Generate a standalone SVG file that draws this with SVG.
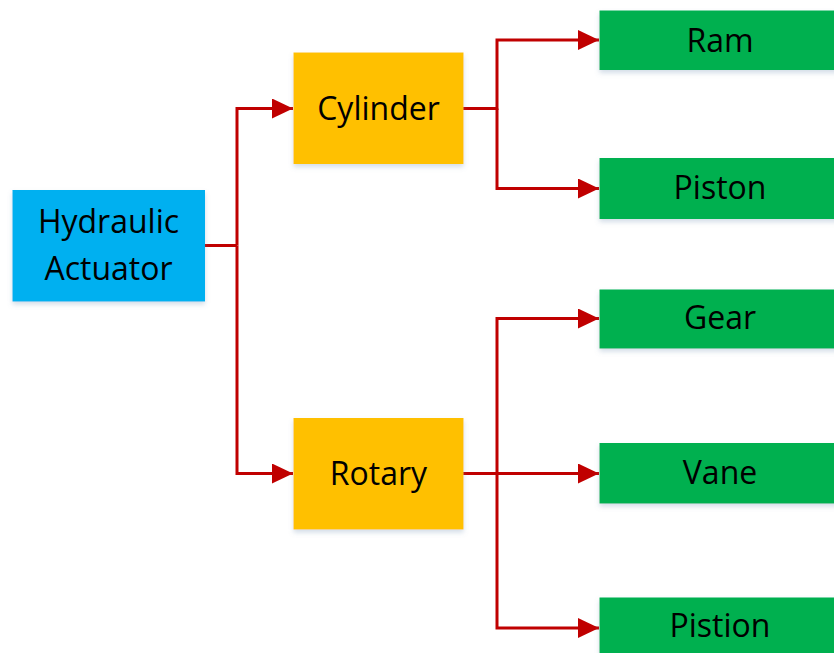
<svg xmlns="http://www.w3.org/2000/svg" width="834" height="653" viewBox="0 0 834 653">
  <style>
    .label { font-family: "Open Sans", "Noto Sans", sans-serif; font-size: 32px; fill: #000; text-anchor: middle; }
    .root { fill: #00B0F0; }
    .mid { fill: #FFC000; }
    .leaf { fill: #00B050; }
    .wire { fill: none; stroke: #C00000; stroke-width: 3; }
  </style>
  <defs>
    <filter id="soft" x="-10%" y="-10%" width="120%" height="130%">
      <feDropShadow dx="0" dy="3" stdDeviation="2.5" flood-color="#6f8fb0" flood-opacity="0.3"/>
    </filter>
    <marker id="head" markerUnits="userSpaceOnUse" markerWidth="21" markerHeight="20" refX="21" refY="10" orient="auto">
      <path d="M0,0 L21,10 L0,20 Z" fill="#C00000"/>
    </marker>
  </defs>

  <rect width="834" height="653" fill="#FFFFFF"/>

  <g id="connectors" class="wire">
    <path d="M205 245.5 H237"/>
    <path d="M237 245.5 V108.5 H293" marker-end="url(#head)"/>
    <path d="M237 245.5 V473.5 H293" marker-end="url(#head)"/>
    <path d="M463 108.5 H497 V40 H599" marker-end="url(#head)"/>
    <path d="M497 108.5 V188.5 H599" marker-end="url(#head)"/>
    <path d="M463 473.5 H497 V318.5 H599" marker-end="url(#head)"/>
    <path d="M497 473.5 H599" marker-end="url(#head)"/>
    <path d="M497 473.5 V628 H599" marker-end="url(#head)"/>
  </g>

  <g id="hydraulic-actuator">
    <rect class="root" x="12.5" y="190" width="192.5" height="111.5" filter="url(#soft)"/>
    <text class="label" x="108.5" y="233">Hydraulic</text>
    <text class="label" x="108.5" y="280">Actuator</text>
  </g>

  <g id="cylinder">
    <rect class="mid" x="293.5" y="52.5" width="170" height="111.5" filter="url(#soft)"/>
    <text class="label" x="378.5" y="120">Cylinder</text>
  </g>

  <g id="rotary">
    <rect class="mid" x="293.5" y="418" width="170" height="111.5" filter="url(#soft)"/>
    <text class="label" x="378.5" y="485">Rotary</text>
  </g>

  <g id="ram">
    <rect class="leaf" x="599.5" y="10.5" width="242" height="59.5" filter="url(#soft)"/>
    <text class="label" x="720" y="51.5">Ram</text>
  </g>

  <g id="piston">
    <rect class="leaf" x="599.5" y="158" width="242" height="61" filter="url(#soft)"/>
    <text class="label" x="720" y="199">Piston</text>
  </g>

  <g id="gear">
    <rect class="leaf" x="599.5" y="289.5" width="242" height="59" filter="url(#soft)"/>
    <text class="label" x="720" y="329">Gear</text>
  </g>

  <g id="vane">
    <rect class="leaf" x="599.5" y="443" width="242" height="60.5" filter="url(#soft)"/>
    <text class="label" x="720" y="484">Vane</text>
  </g>

  <g id="pistion">
    <rect class="leaf" x="599.5" y="597.5" width="242" height="62" filter="url(#soft)"/>
    <text class="label" x="720" y="637">Pistion</text>
  </g>
</svg>
